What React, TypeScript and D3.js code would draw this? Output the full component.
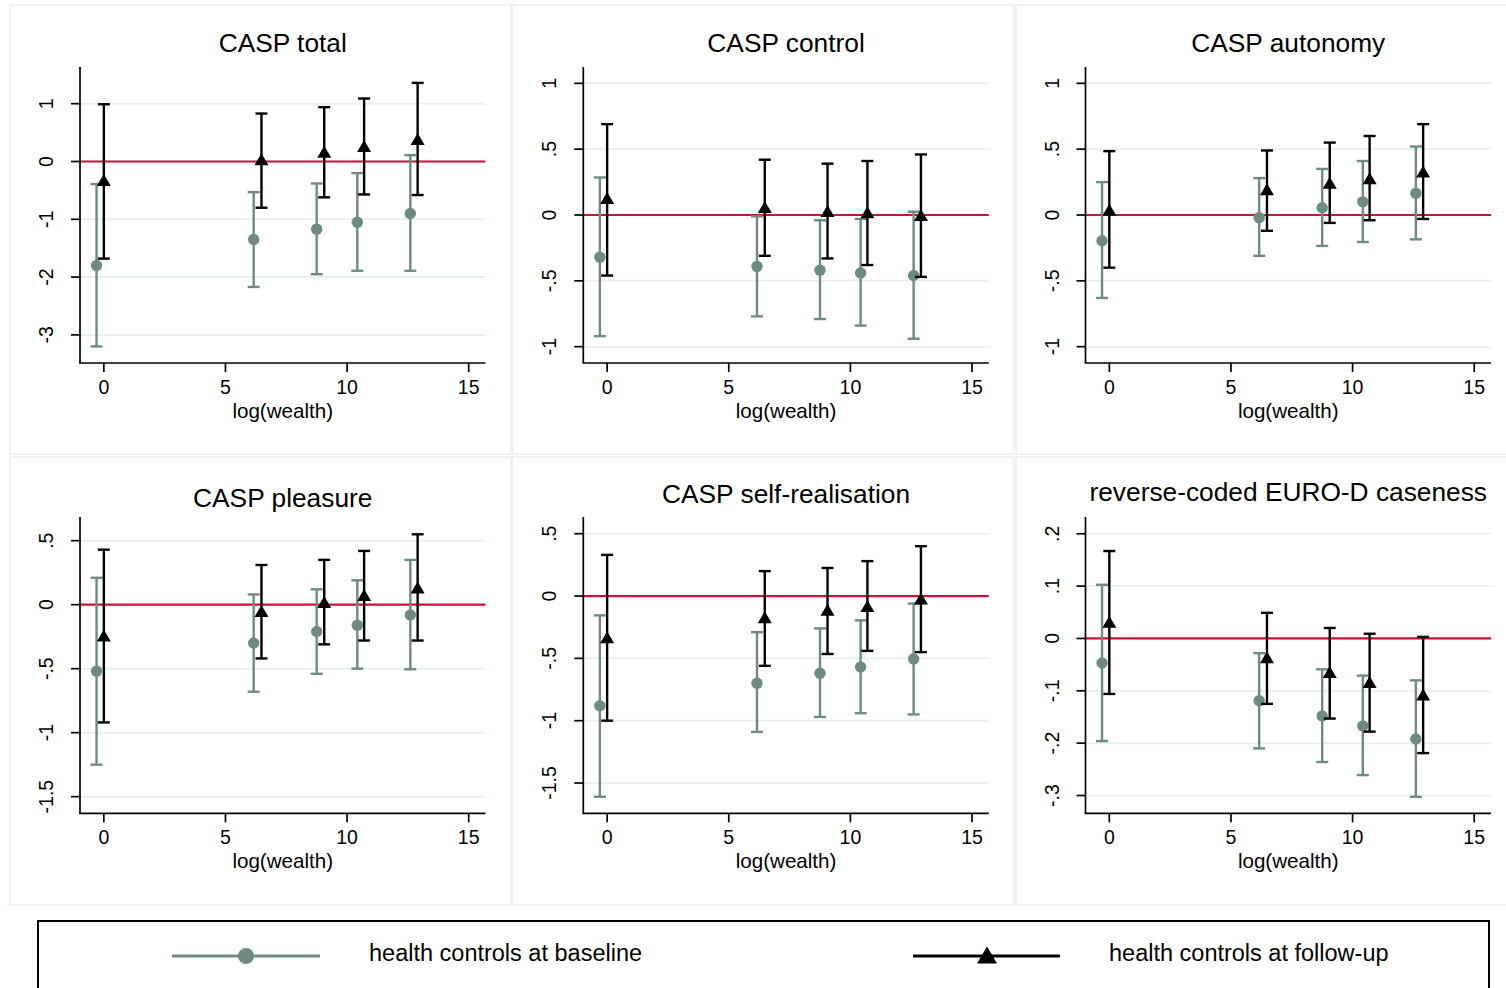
import React from "react";
import * as d3 from "d3";

// ---------- data ----------
const panelTitles = [
  "CASP total",
  "CASP control",
  "CASP autonomy",
  "CASP pleasure",
  "CASP self-realisation",
  "reverse-coded EURO-D caseness",
];

// x positions (log wealth) of the two series
const baselineX = [-0.3, 6.16, 8.75, 10.42, 12.6];
const followupX = [0, 6.48, 9.06, 10.7, 12.9];

// [estimate, lower, upper]
const totalBaseline = [[-1.8, -3.2, -0.39], [-1.35, -2.17, -0.53], [-1.17, -1.95, -0.38], [-1.05, -1.89, -0.2], [-0.9, -1.89, 0.11]];
const totalFollowup = [[-0.32, -1.68, 0.99], [0.04, -0.8, 0.83], [0.17, -0.62, 0.94], [0.27, -0.57, 1.09], [0.39, -0.58, 1.36]];

const controlBaseline = [[-0.32, -0.92, 0.285], [-0.39, -0.77, -0.01], [-0.42, -0.79, -0.04], [-0.44, -0.84, -0.03], [-0.46, -0.94, 0.025]];
const controlFollowup = [[0.13, -0.46, 0.69], [0.06, -0.31, 0.42], [0.03, -0.33, 0.39], [0.02, -0.38, 0.41], [0.0, -0.47, 0.46]];

const autonomyBaseline = [[-0.195, -0.63, 0.25], [-0.02, -0.31, 0.28], [0.055, -0.235, 0.35], [0.1, -0.205, 0.41], [0.165, -0.185, 0.52]];
const autonomyFollowup = [[0.04, -0.4, 0.485], [0.195, -0.12, 0.49], [0.245, -0.06, 0.55], [0.28, -0.04, 0.6], [0.33, -0.03, 0.69]];

const pleasureBaseline = [[-0.52, -1.25, 0.21], [-0.3, -0.68, 0.08], [-0.21, -0.54, 0.12], [-0.16, -0.5, 0.19], [-0.08, -0.505, 0.35]];
const pleasureFollowup = [[-0.24, -0.92, 0.43], [-0.05, -0.42, 0.31], [0.02, -0.31, 0.35], [0.075, -0.28, 0.42], [0.135, -0.28, 0.55]];

const selfBaseline = [[-0.88, -1.61, -0.155], [-0.7, -1.09, -0.29], [-0.62, -0.97, -0.26], [-0.57, -0.94, -0.195], [-0.505, -0.95, -0.06]];
const selfFollowup = [[-0.33, -1.0, 0.33], [-0.17, -0.56, 0.2], [-0.11, -0.465, 0.225], [-0.08, -0.44, 0.28], [-0.02, -0.45, 0.4]];

const eurodBaseline = [[-0.047, -0.196, 0.1025], [-0.119, -0.21, -0.028], [-0.148, -0.236, -0.059], [-0.167, -0.261, -0.071], [-0.192, -0.3025, -0.08]];
const eurodFollowup = [[0.032, -0.106, 0.167], [-0.036, -0.125, 0.049], [-0.064, -0.153, 0.02], [-0.083, -0.178, 0.009], [-0.107, -0.219, 0.003]];

const baselineSeries = [totalBaseline, controlBaseline, autonomyBaseline, pleasureBaseline, selfBaseline, eurodBaseline];
const followupSeries = [totalFollowup, controlFollowup, autonomyFollowup, pleasureFollowup, selfFollowup, eurodFollowup];

// axes
const xTicks = [0, 5, 10, 15];
const xDomain = [-0.98, 15.69];
const yTicks = [
  [1, 0, -1, -2, -3],
  [1, 0.5, 0, -0.5, -1],
  [1, 0.5, 0, -0.5, -1],
  [0.5, 0, -0.5, -1, -1.5],
  [0.5, 0, -0.5, -1, -1.5],
  [0.2, 0.1, 0, -0.1, -0.2, -0.3],
];
const yDomains = [
  [-3.486, 1.635],
  [-1.124, 1.124],
  [-1.124, 1.124],
  [-1.63, 0.685],
  [-1.743, 0.634],
  [-0.334, 0.232],
];
const xAxisTitle = "log(wealth)";
const legendLabels = ["health controls at baseline", "health controls at follow-up"];

// ---------- style / layout ----------
const W = 1506;
const H = 988;
const FONT = "'Liberation Sans', Arial, Helvetica, sans-serif";
const GRAY = "#6f8b80";
const BLACK = "#000000";
const RED = "#c8133c";
const GRID = "#e8f0f1";
const axisXs = [80, 583.3, 1085.5];
const plotW = 405.5;
const rowTop = [67, 517];
const rowBottom = [363, 813.3];
const panelBoxes = [
  [10, 5, 501, 449], [512.5, 5, 501, 449], [1016, 5, 501, 449],
  [10, 457, 501, 448], [512.5, 457, 501, 448], [1016, 457, 501, 448],
];
const titleYs = [52, 52, 52, 507, 502.7, 501];

function fmt(v: number): string {
  if (v === 0) return "0";
  const s = String(v);
  return s.replace(/^(-?)0\./, "$1.");
}

function triPath(cx: number, cy: number, w: number, h: number) {
  return `M${cx},${cy - h / 2}L${cx + w / 2},${cy + h / 2}L${cx - w / 2},${cy + h / 2}Z`;
}

function Panel({ i }: { i: number }) {
  const col = i % 3;
  const row = Math.floor(i / 3);
  const x0 = axisXs[col];
  const top = rowTop[row];
  const bottom = rowBottom[row];
  const x = d3.scaleLinear().domain(xDomain).range([x0, x0 + plotW]);
  const y = d3.scaleLinear().domain(yDomains[i]).range([bottom, top]);
  const box = panelBoxes[i];
  const cx = x0 + plotW / 2;
  const cap = 6;

  const series = [
    { data: baselineSeries[i], xs: baselineX, color: GRAY, kind: "circle" },
    { data: followupSeries[i], xs: followupX, color: BLACK, kind: "tri" },
  ];

  return (
    <g>
      <rect x={box[0]} y={box[1]} width={box[2]} height={box[3]} fill="white" stroke={GRID} strokeWidth={1.5} />
      {yTicks[i].map((t) => (
        <line key={"g" + t} x1={x0} x2={x0 + plotW} y1={y(t)} y2={y(t)} stroke={GRID} strokeWidth={2} />
      ))}
      <line x1={x0} x2={x0 + plotW} y1={y(0)} y2={y(0)} stroke={RED} strokeWidth={2.2} />
      {series.map((s, si) => (
        <g key={si}>
          {s.data.map((d, k) => {
            const px = x(s.xs[k]);
            return (
              <g key={k}>
                <line x1={px} x2={px} y1={y(d[1])} y2={y(d[2])} stroke={s.color} strokeWidth={2.4} />
                <line x1={px - cap} x2={px + cap} y1={y(d[1])} y2={y(d[1])} stroke={s.color} strokeWidth={2.4} />
                <line x1={px - cap} x2={px + cap} y1={y(d[2])} y2={y(d[2])} stroke={s.color} strokeWidth={2.4} />
                {s.kind === "circle" ? (
                  <circle cx={px} cy={y(d[0])} r={5.7} fill={s.color} />
                ) : (
                  <path d={triPath(px, y(d[0]), 14, 12)} fill={s.color} />
                )}
              </g>
            );
          })}
        </g>
      ))}
      <line x1={x0} x2={x0} y1={top} y2={bottom} stroke="#000" strokeWidth={1.7} />
      <line x1={x0 - 0.85} x2={x0 + plotW} y1={bottom} y2={bottom} stroke="#000" strokeWidth={1.7} />
      {yTicks[i].map((t) => (
        <g key={"yt" + t}>
          <line x1={x0 - 9} x2={x0} y1={y(t)} y2={y(t)} stroke="#000" strokeWidth={1.7} />
          <text
            transform={`translate(${x0 - 27},${y(t)}) rotate(-90)`}
            textAnchor="middle"
            fontFamily={FONT}
            fontSize={19.5}
            fill="#000"
          >
            {fmt(t)}
          </text>
        </g>
      ))}
      {xTicks.map((t) => (
        <g key={"xt" + t}>
          <line x1={x(t)} x2={x(t)} y1={bottom} y2={bottom + 9} stroke="#000" strokeWidth={1.7} />
          <text x={x(t)} y={bottom + 30.5} textAnchor="middle" fontFamily={FONT} fontSize={19.5} fill="#000">
            {t}
          </text>
        </g>
      ))}
      <text x={cx} y={bottom + 54.5} textAnchor="middle" fontFamily={FONT} fontSize={20.6} fill="#000">
        {xAxisTitle}
      </text>
      <text x={cx} y={titleYs[i]} textAnchor="middle" fontFamily={FONT} fontSize={26.3} fill="#000">
        {panelTitles[i]}
      </text>
    </g>
  );
}

export default function App() {
  return (
    <svg
      width={W}
      height={H}
      viewBox={`0 0 ${W} ${H}`}
      style={{ position: "absolute", left: 0, top: 0, background: "white" }}
    >
      <rect x={0} y={0} width={W} height={H} fill="white" />
      {panelTitles.map((_, i) => (
        <Panel key={i} i={i} />
      ))}
      <rect x={38} y={921} width={1451} height={100} fill="white" stroke="#000" strokeWidth={2} />
      <line x1={172} x2={320} y1={956} y2={956} stroke={GRAY} strokeWidth={3} />
      <circle cx={246} cy={956} r={8} fill={GRAY} />
      <text x={369} y={961} fontFamily={FONT} fontSize={23.5} fill="#000">
        {legendLabels[0]}
      </text>
      <line x1={913} x2={1060} y1={956} y2={956} stroke={BLACK} strokeWidth={3} />
      <path d={triPath(987, 955, 20, 17)} fill={BLACK} />
      <text x={1109} y={961} fontFamily={FONT} fontSize={23.5} fill="#000">
        {legendLabels[1]}
      </text>
    </svg>
  );
}
